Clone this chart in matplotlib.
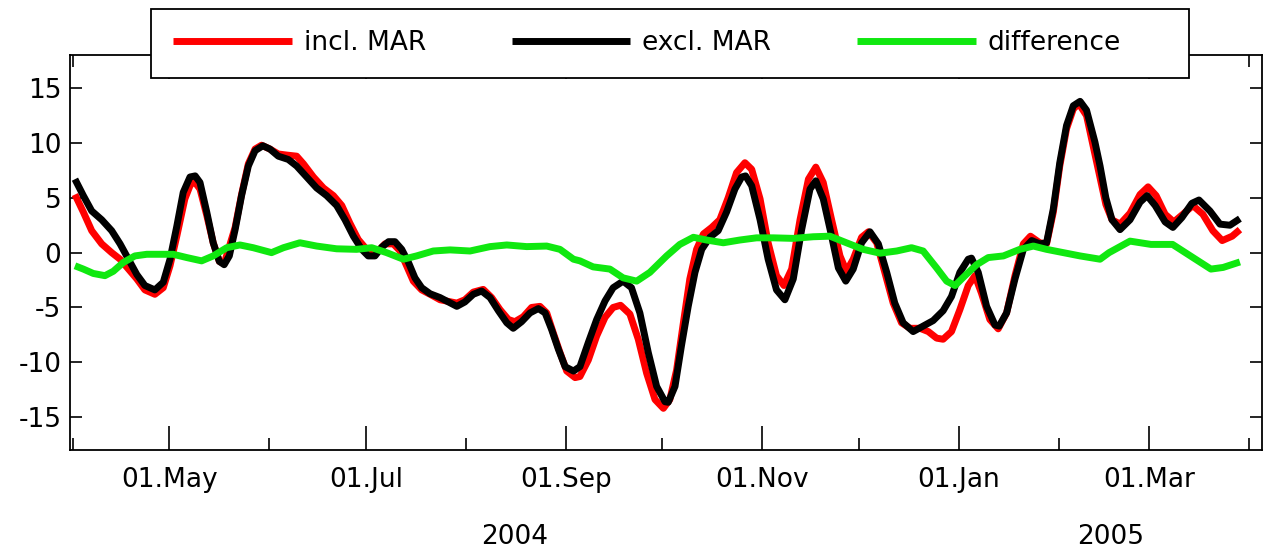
import matplotlib
matplotlib.use('Agg')
import matplotlib.pyplot as plt
import matplotlib.dates as mdates
from matplotlib.patches import Rectangle
from matplotlib.transforms import blended_transform_factory
import numpy as np
from datetime import datetime

plt.rcParams['font.family'] = 'DejaVu Sans'
plt.rcParams['axes.unicode_minus'] = False

# dias contados desde el 01.04.2004
inicio = datetime(2004, 4, 1)

dias_incl = [0.7, 3.3, 5.9, 9.0, 12.1, 14.7, 17.3, 19.9, 22.4, 25.5,
             28.1, 30.2, 32.3, 34.8, 36.4, 37.6, 39.5, 41.6, 43.6, 45.5,
             47.0, 50.4, 52.4, 54.5, 56.6, 58.6, 61.2, 63.8, 66.4, 69.5,
             71.6, 74.7, 77.8, 80.9, 83.5, 86.0, 88.6, 91.2, 92.8, 94.8,
             96.9, 99.5, 101.6, 103.6, 105.7, 108.3, 110.9, 114.0, 119.2, 121.7,
             124.3, 127.4, 130.0, 132.6, 135.2, 137.2, 139.8, 142.4, 145.0, 147.1,
             149.1, 151.2, 153.3, 155.9, 157.4, 160.0, 162.6, 165.2, 167.7, 170.0,
             172.9, 175.5, 178.1, 180.7, 183.3, 185.3, 187.4, 189.5, 191.5, 193.6,
             195.7, 198.3, 200.8, 203.4, 206.0, 208.6, 210.7, 213.3, 215.8, 218.4,
             220.7, 223.1, 225.7, 228.3, 230.6, 232.9, 235.5, 238.1, 240.1, 242.2,
             244.8, 246.9, 249.5, 252.0, 254.6, 257.2, 259.8, 262.9, 265.5, 268.1,
             270.1, 272.7, 275.3, 277.9, 280.0, 282.0, 284.6, 287.2, 289.8, 292.4,
             295.0, 297.2, 300.1, 302.2, 304.3, 306.3, 308.4, 310.5, 312.2, 314.6,
             317.2, 318.8, 320.6, 322.5, 325.0, 328.1, 331.2, 333.7, 336.2, 339.0,
             341.7, 344.5, 347.6, 350.7, 353.8, 356.7, 359.8, 362.2]
incl_mar = [5.3, 3.7, 2.0, 0.8, 0.0, -0.6, -1.5, -2.4, -3.4, -3.8,
            -3.2, -1.2, 1.5, 4.9, 6.1, 6.55, 5.8, 3.4, 0.9, -0.8,
            -1.0, 2.3, 5.3, 8.1, 9.45, 9.8, 9.45, 9.0, 8.9, 8.8,
            8.1, 6.9, 5.9, 5.2, 4.3, 2.7, 1.2, 0.3, 0.0, 0.15,
            0.8, 0.8, 0.15, -1.2, -2.6, -3.4, -3.8, -4.3, -4.6, -4.3,
            -3.6, -3.35, -4.1, -5.2, -6.1, -6.3, -5.85, -5.0, -4.9, -5.5,
            -7.3, -9.1, -10.8, -11.4, -11.3, -9.8, -7.6, -5.9, -5.0, -4.8,
            -5.6, -7.9, -11.0, -13.4, -14.2, -13.4, -10.7, -6.4, -2.4, 0.3,
            1.7, 2.3, 3.0, 5.0, 7.3, 8.2, 7.6, 4.9, 0.9, -2.1,
            -3.0, -1.5, 3.0, 6.7, 7.8, 6.4, 3.0, -0.3, -1.7, -0.6,
            1.4, 1.9, 0.9, -1.8, -4.6, -6.4, -6.9, -6.9, -7.2, -7.8,
            -7.9, -7.2, -5.2, -3.0, -2.1, -3.7, -6.1, -6.95, -5.5, -2.1,
            0.8, 1.5, 0.9, 0.8, 3.7, 7.9, 11.3, 13.1, 13.6, 12.5,
            9.0, 6.8, 4.4, 3.0, 2.6, 3.6, 5.3, 6.0, 5.2, 3.5,
            2.8, 3.5, 4.3, 3.5, 2.0, 1.1, 1.5, 2.1]

dias_excl = [0.7, 3.3, 5.9, 9.0, 12.1, 14.7, 17.3, 19.9, 22.4, 25.5,
             28.1, 30.2, 32.3, 34.3, 36.4, 38.0, 39.5, 41.6, 43.6, 45.5,
             47.0, 48.6, 50.4, 52.4, 54.5, 56.6, 59.0, 61.2, 63.8, 66.9,
             69.5, 72.6, 75.7, 78.8, 81.9, 84.5, 87.1, 89.7, 91.7, 93.8,
             95.9, 98.0, 100.0, 102.1, 104.2, 106.2, 108.3, 110.9, 114.0, 116.6,
             119.2, 121.7, 124.3, 126.9, 129.5, 132.1, 134.7, 136.7, 139.3, 141.9,
             144.5, 146.6, 148.6, 150.7, 152.8, 155.4, 157.4, 160.0, 162.6, 165.2,
             167.7, 170.8, 173.4, 176.0, 178.6, 181.2, 183.8, 184.8, 186.9, 188.9,
             191.0, 193.1, 195.2, 197.7, 200.3, 202.9, 205.5, 207.6, 208.8, 210.7,
             213.3, 215.8, 218.4, 221.0, 223.6, 226.2, 228.8, 230.6, 232.9, 235.5,
             237.6, 239.9, 242.2, 244.8, 247.4, 250.0, 252.6, 255.1, 257.7, 260.8,
             263.9, 267.0, 270.1, 272.7, 275.3, 277.9, 278.9, 281.0, 283.6, 286.2,
             287.5, 289.8, 292.4, 295.0, 297.6, 300.1, 302.2, 304.3, 306.3, 308.4,
             310.5, 312.6, 314.6, 317.2, 318.8, 320.6, 322.5, 325.0, 328.1, 331.2,
             333.4, 335.9, 339.0, 341.4, 344.2, 347.3, 349.5, 352.9, 356.0, 359.1,
             362.2]
excl_mar = [6.7, 5.2, 3.8, 3.0, 2.0, 0.8, -0.6, -2.0, -3.0, -3.4,
            -2.7, -0.6, 2.4, 5.5, 6.9, 7.0, 6.4, 3.7, 0.9, -0.8,
            -1.1, -0.3, 2.1, 5.2, 7.9, 9.3, 9.75, 9.45, 8.8, 8.5,
            7.9, 6.9, 5.9, 5.2, 4.3, 3.0, 1.5, 0.3, -0.3, -0.3,
            0.5, 1.0, 1.0, 0.3, -0.9, -2.3, -3.2, -3.75, -4.1, -4.5,
            -4.9, -4.5, -3.8, -3.5, -4.1, -5.3, -6.4, -6.9, -6.3, -5.5,
            -5.1, -5.5, -7.0, -8.8, -10.4, -10.8, -10.4, -8.2, -6.1, -4.4,
            -3.2, -2.6, -3.2, -5.5, -9.1, -12.2, -13.6, -13.65, -12.2, -8.5,
            -4.9, -1.8, 0.3, 1.4, 2.0, 3.7, 5.8, 6.9, 7.0, 6.1,
            3.0, -0.6, -3.4, -4.3, -2.4, 2.1, 5.8, 6.55, 4.9, 1.5,
            -1.4, -2.6, -1.5, 0.9, 1.9, 0.8, -1.8, -4.6, -6.4, -7.2,
            -6.7, -6.2, -5.3, -4.0, -1.8, -0.6, -0.5, -1.8, -4.9, -6.6,
            -6.7, -5.5, -2.4, 0.3, 1.1, 0.8, 0.9, 4.0, 8.2, 11.6,
            13.4, 13.8, 13.0, 10.1, 7.9, 5.0, 3.0, 2.1, 3.0, 4.6,
            5.2, 4.3, 2.8, 2.3, 3.2, 4.5, 4.8, 3.8, 2.6, 2.5,
            3.1]

dias_dif = [0.7, 3.3, 6.4, 10.0, 12.6, 15.7, 19.3, 23.0, 27.1, 31.2,
            35.4, 40.0, 43.6, 47.8, 51.9, 56.0, 61.7, 65.4, 70.5, 75.7,
            81.9, 88.1, 92.8, 97.4, 102.6, 106.7, 111.9, 117.1, 123.3, 129.5,
            134.7, 140.9, 147.1, 151.2, 155.4, 157.4, 161.5, 166.7, 170.8, 175.0,
            179.1, 184.3, 188.4, 192.6, 196.7, 201.9, 207.0, 212.2, 217.4, 223.6,
            229.8, 235.0, 240.1, 245.3, 250.5, 255.7, 260.3, 263.9, 268.1, 271.2,
            273.8, 276.9, 280.5, 284.1, 288.8, 293.9, 298.1, 302.2, 307.4, 312.6,
            318.8, 321.6, 328.1, 334.6, 341.3, 347.9, 353.2, 357.0, 362.2]
diferencia = [-1.2, -1.5, -1.9, -2.1, -1.7, -0.9, -0.3, -0.15, -0.15, -0.15,
              -0.45, -0.75, -0.3, 0.45, 0.7, 0.45, 0.0, 0.45, 0.9, 0.6,
              0.35, 0.3, 0.45, 0.0, -0.6, -0.3, 0.15, 0.25, 0.15, 0.55,
              0.7, 0.55, 0.6, 0.3, -0.6, -0.75, -1.3, -1.5, -2.3, -2.6,
              -1.8, -0.3, 0.75, 1.4, 1.15, 0.9, 1.15, 1.35, 1.35, 1.3,
              1.45, 1.5, 0.9, 0.3, -0.05, 0.15, 0.45, 0.15, -1.4, -2.6,
              -3.0, -2.1, -1.1, -0.45, -0.3, 0.3, 0.6, 0.3, 0.0, -0.3,
              -0.6, 0.0, 1.05, 0.75, 0.75, -0.5, -1.5, -1.35, -0.85]

etiquetas = ['incl. MAR', 'excl. MAR', 'difference']
colores = ['red', 'black', '#10e810']
anios = ['2004', '2005']
pos_anios = [datetime(2004, 8, 16), datetime(2005, 2, 17)]

t0 = mdates.date2num(inicio)

fig = plt.figure(figsize=(12.65, 5.53), dpi=100)
ax = fig.add_axes([0.0551, 0.1863, 0.9429, 0.7137])

series = [(dias_incl, incl_mar), (dias_excl, excl_mar), (dias_dif, diferencia)]
for (d, v), lab, col in zip(series, etiquetas, colores):
    ax.plot(t0 + np.array(d), v, color=col, lw=5.0, label=lab,
            solid_joinstyle='round', solid_capstyle='butt')

ax.set_xlim(t0 - 0.93, t0 + 369.2)
ax.set_ylim(-18, 18)
ax.set_yticks(np.arange(-15, 16, 5))

ax.xaxis.set_major_locator(mdates.MonthLocator(bymonth=[1, 3, 5, 7, 9, 11]))
ax.xaxis.set_minor_locator(mdates.MonthLocator())
ax.xaxis.set_major_formatter(mdates.DateFormatter('%d.%b'))

ax.tick_params(which='both', direction='in', top=True, right=True,
               width=1.2, labelsize=19, color='black')
ax.tick_params(axis='x', which='major', length=17, pad=12)
ax.tick_params(axis='x', which='minor', length=8.5)
ax.tick_params(axis='y', length=8.5, pad=6)
for s in ax.spines.values():
    s.set_linewidth(1.3)

# años debajo de las fechas
trans = blended_transform_factory(ax.transData, fig.transFigure)
for a, p in zip(anios, pos_anios):
    ax.text(mdates.date2num(p), 0.029, a, transform=trans,
            ha='center', va='center', fontsize=19)

# caja de la leyenda (tapa el borde superior de los ejes)
caja = Rectangle((151 / 1265, 1 - 77.7 / 553), (1189 - 151) / 1265, 68.7 / 553,
                 transform=fig.transFigure, facecolor='white', edgecolor='black',
                 linewidth=1.3, clip_on=False, zorder=4)
ax.add_patch(caja)

leg = ax.legend(loc='center left', bbox_to_anchor=(173 / 1265, 1 - 43 / 553),
                bbox_transform=fig.transFigure, ncol=3, fontsize=19,
                frameon=False, borderaxespad=0, borderpad=0,
                handlelength=4.5, handletextpad=0.45, columnspacing=3.25)
leg.set_zorder(5)

plt.savefig('out.png', dpi=100)
